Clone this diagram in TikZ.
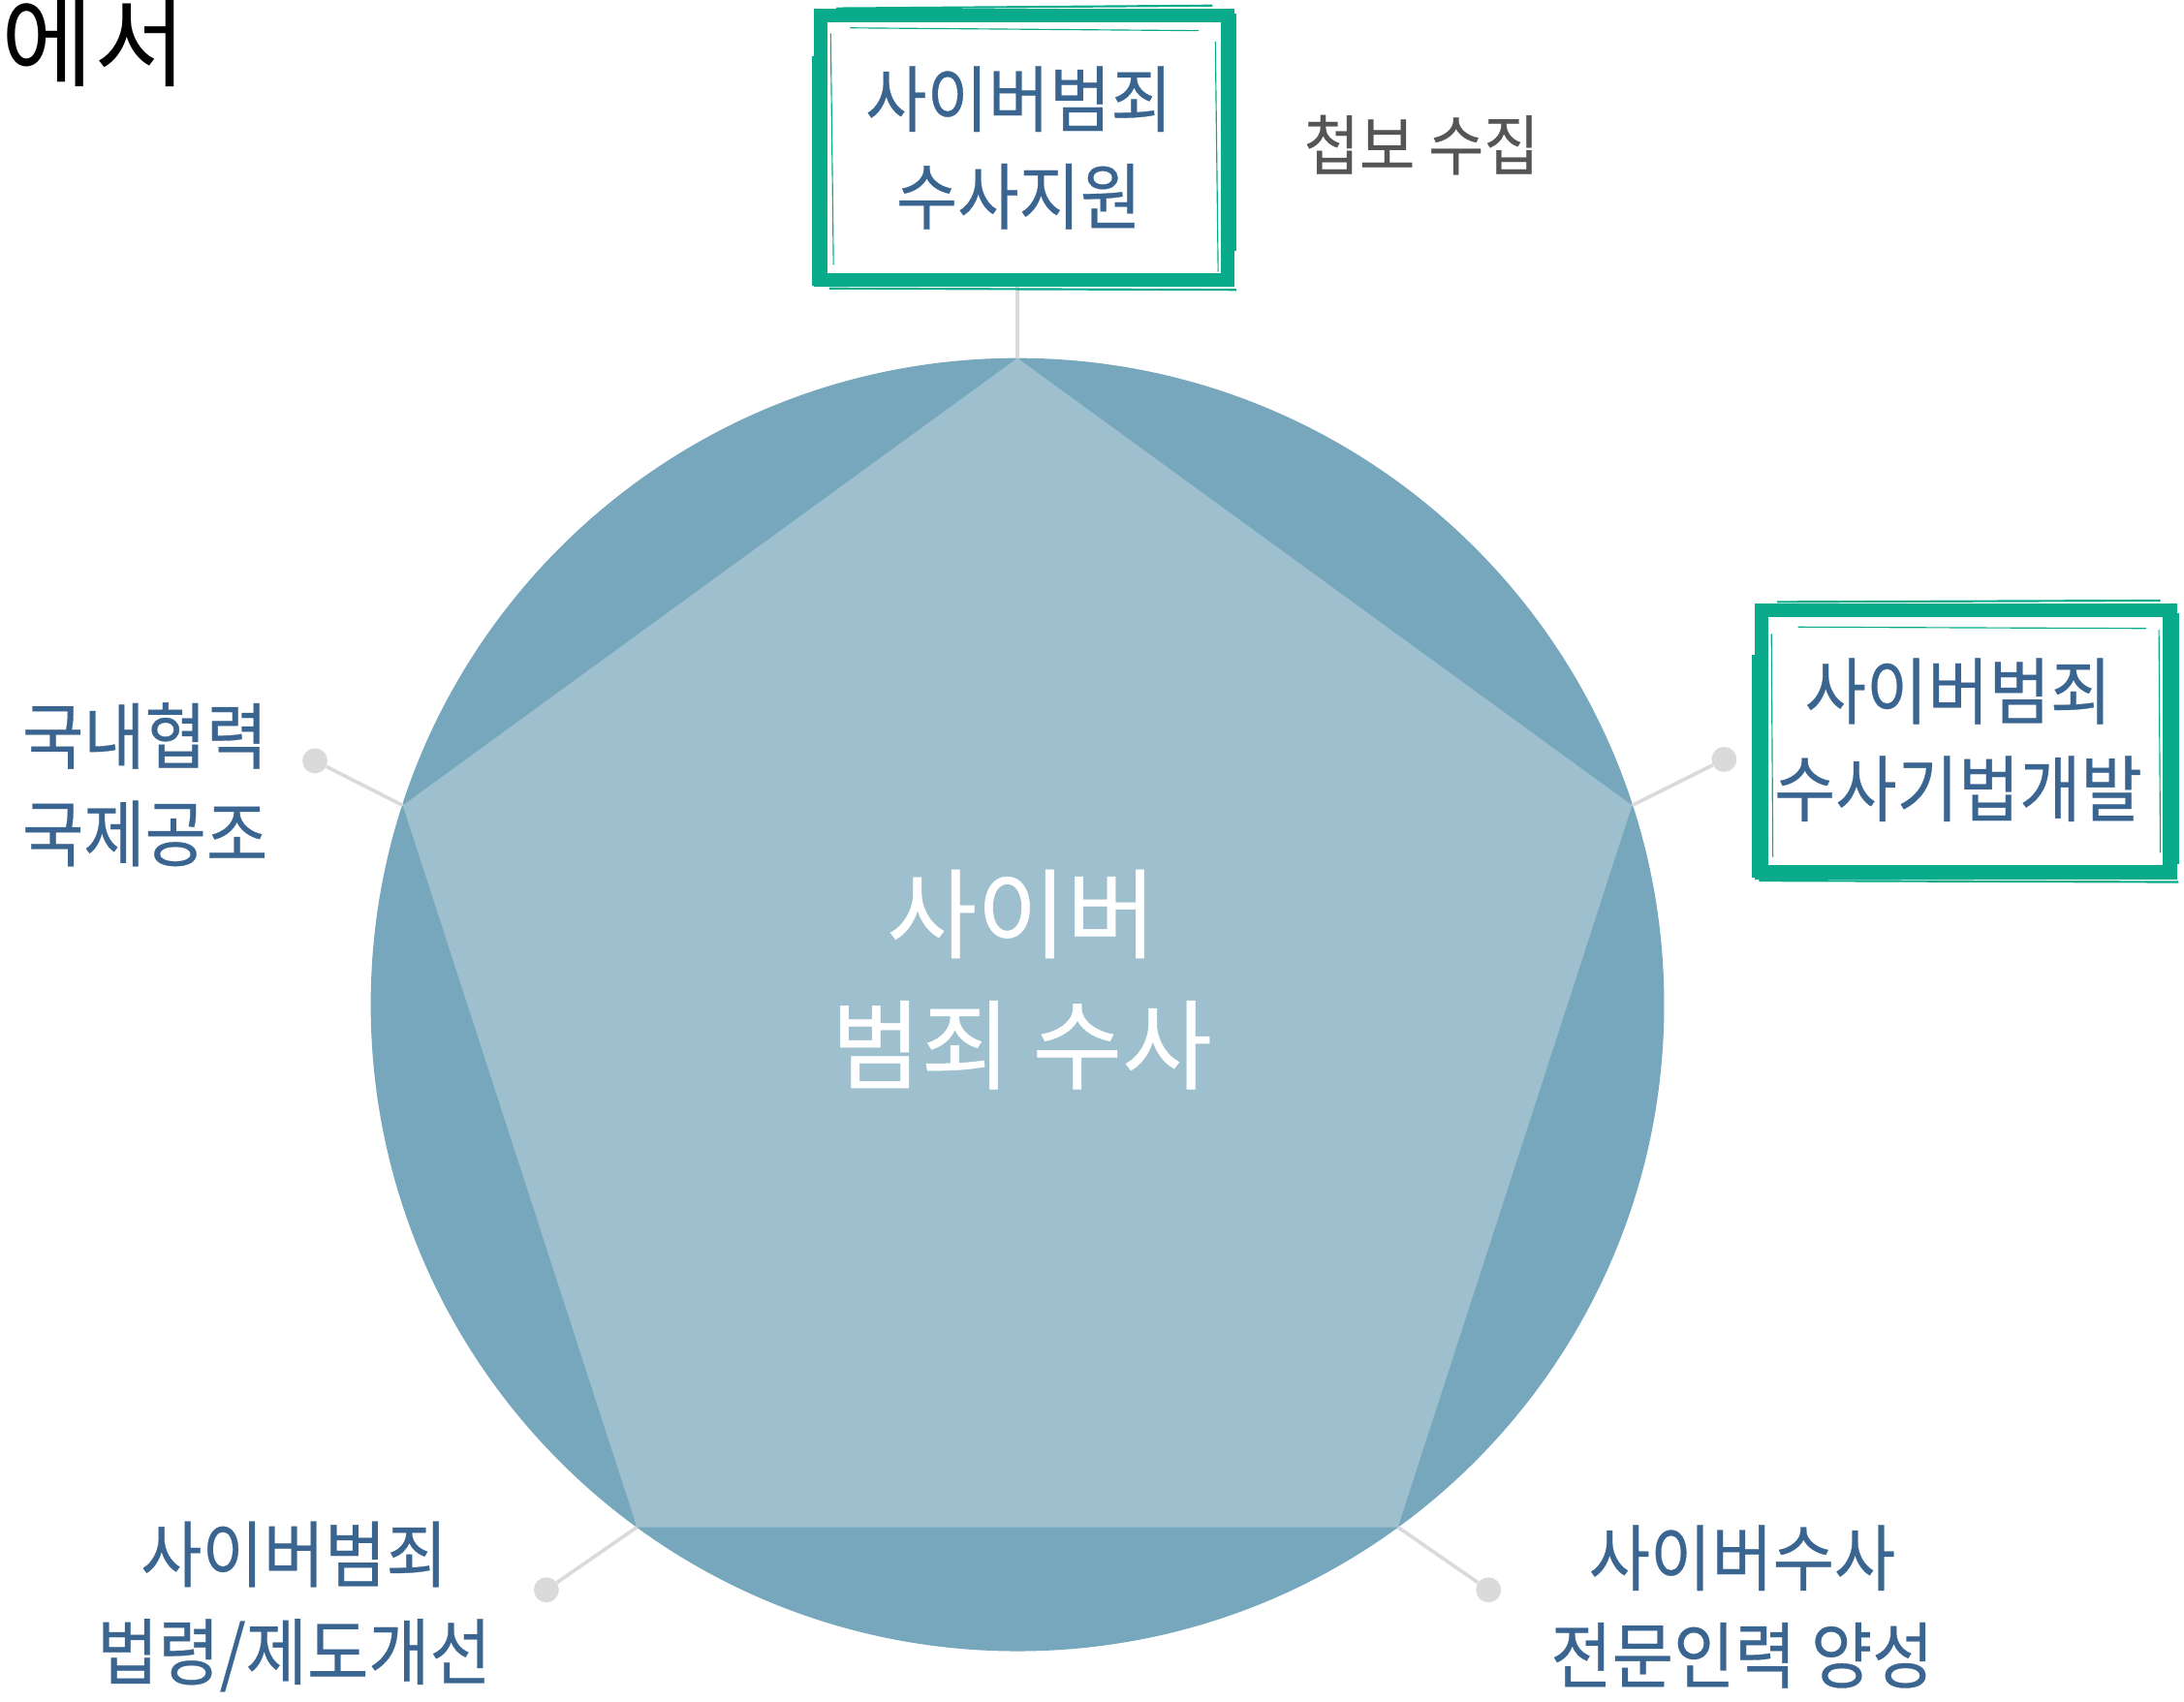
\documentclass[tikz,border=0pt]{standalone}
\usepackage{fontspec}
\setmainfont{Noto Sans CJK KR}
\newfontfamily\krlab[FakeStretch=0.92,FakeBold=0.4]{Noto Sans CJK KR}
\newfontfamily\krmid[FakeStretch=1.0,FakeBold=0.5]{Noto Sans CJK KR}
\definecolor{ring}{HTML}{76A7BD}
\definecolor{penta}{HTML}{9EC0CE}
\definecolor{brush}{HTML}{0AAB8B}
\definecolor{labblue}{HTML}{3A6590}
\definecolor{graytxt}{HTML}{555555}
\definecolor{conn}{HTML}{DADADA}
\tikzset{
  lab/.style={text=labblue, font=\krlab\fontsize{52}{70}\selectfont, align=center, inner sep=0pt},
  dotnode/.style={circle, fill=conn, minimum size=18pt, inner sep=0pt},
  connline/.style={draw=conn, line width=2.5pt},
  brushbox/.style={draw=brush, line width=10pt},
  brushthin/.style={draw=brush, line width=1.5pt},
}
\begin{document}
\begin{tikzpicture}[x=1pt, y=-1pt]
\useasboundingbox (0,0) rectangle (1567,1221);
\fill[white] (0,0) rectangle (1567,1221);
% title fragment
\node[anchor=base east, inner sep=0pt, font=\fontsize{72}{80}\selectfont] (title) at (134,57) {에서};
% circle and pentagon
\node[circle, fill=ring, minimum size=928pt, inner sep=0pt] (ring) at (730,721) {};
\coordinate (vT) at (730,257);
\coordinate (vR) at (1171,578);
\coordinate (vBR) at (1003,1096);
\coordinate (vBL) at (457,1096);
\coordinate (vL) at (289,578);
\fill[penta] (vT) -- (vR) -- (vBR) -- (vBL) -- (vL) -- cycle;
% connectors
\node[dotnode] (dT) at (730,186) {};
\node[dotnode] (dR) at (1237,545) {};
\node[dotnode] (dL) at (226,546) {};
\node[dotnode] (dBL) at (392,1141) {};
\node[dotnode] (dBR) at (1068,1141) {};
\draw[connline] (vT) -- (dT);
\draw[connline] (vR) -- (dR);
\draw[connline] (vL) -- (dL);
\draw[connline] (vBL) -- (dBL);
\draw[connline] (vBR) -- (dBR);
% center text
\node[text=white, font=\krmid\fontsize{70}{94}\selectfont, align=center, inner sep=0pt] (center) at (733,703) {사이버\\범죄 수사};
% top box
\fill[white] (590,12) rectangle (880,200);
\draw[brushbox] (589,11) rectangle (881,201);
\draw[brushthin] (583,40) -- (583,205);
\draw[brushthin] (600,6) -- (870,4);
\draw[brushthin] (886,10) -- (886,180);
\draw[brushthin] (595,207) -- (887,208);
\draw[brush, line width=0.8pt] (596,24) -- (598,190);
\draw[brush, line width=0.8pt] (610,20) -- (860,22);
\draw[brush, line width=0.8pt] (872,30) -- (874,195);
\node[lab] (topbox) at (731,106) {사이버범죄\\수사지원};
\node[text=graytxt, font=\krlab\fontsize{47}{50}\selectfont, inner sep=0pt] (info) at (1020,104) {첩보 수집};
% right box
\fill[white] (1265,440) rectangle (1556,624);
\draw[brushbox] (1264,438) rectangle (1557,626);
\draw[brushthin] (1258,470) -- (1258,630);
\draw[brushthin] (1275,432) -- (1550,431);
\draw[brushthin] (1563,440) -- (1563,620);
\draw[brushthin] (1262,632) -- (1563,633);
\draw[brush, line width=0.8pt] (1271,455) -- (1272,615);
\draw[brush, line width=0.8pt] (1290,450) -- (1540,451);
\draw[brush, line width=0.8pt] (1549,452) -- (1550,612);
\node[lab] (rightbox) at (1405,531) {사이버범죄\\수사기법개발};
% other labels
\node[lab] (leftlab) at (104,563) {국내협력\\국제공조};
\node[lab] (bllab) at (211,1153) {사이버범죄\\법령/제도개선};
\node[lab] (brlab) at (1250,1153) {사이버수사\\전문인력 양성};
\end{tikzpicture}
\end{document}
